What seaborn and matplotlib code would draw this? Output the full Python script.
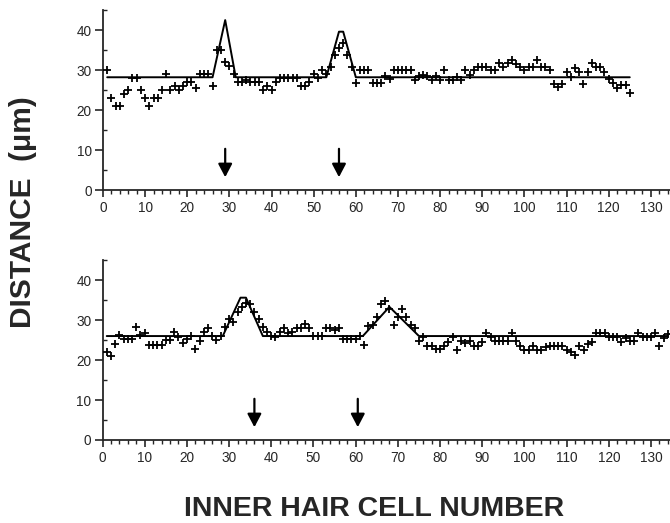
"""Inner hair cell spacing along the cochlea, two preparations."""

import matplotlib.pyplot as plt
import matplotlib.ticker as mticker
import seaborn as sns
import numpy as np

# --- data -------------------------------------------------------------------
top_cells = list(range(1, 126))
top_dist = [
    30, 23, 21, 21, 24, 25, 28, 28, 25, 23,
    21, 23, 23, 25, 29, 25, 26, 25, 26, 27,
    27, 25.5, 29, 29, 29, 26, 35, 35, 32, 31,
    29, 27, 27, 27.5, 27, 27, 27, 25, 26, 25,
    27, 28, 28, 28, 28, 28, 26, 26, 27, 29,
    28, 30, 29, 30.8, 33.7, 35.4, 36.8, 33.7, 30.8, 26.7,
    30, 30, 30, 26.7, 26.7, 26.7, 28.5, 27.7, 30, 30,
    30, 30, 30, 27.5, 28.5, 28.7, 28.5, 27.5, 28.5, 27.5,
    30, 27.5, 27.5, 28.3, 27.5, 30, 28.7, 30, 30.8, 30.8,
    30.8, 30, 30, 31.7, 30.8, 31.7, 32.5, 31.5, 30.8, 30,
    30.8, 30.8, 32.5, 30.8, 30.8, 30, 26.5, 25.7, 26.5, 29.6,
    28.3, 30.4, 29.6, 26.5, 29.6, 31.7, 30.8, 30.8, 29.6, 27.7,
    26.7, 25.4, 26.2, 26.2, 24.3,
]
top_fit_x = [1, 26, 29, 31.5, 53, 56, 57, 60, 125]
top_fit_y = [28.2, 28.2, 42.5, 28.2, 28.2, 39.6, 39.6, 28.2, 28.2]
top_arrows = [29, 56]

bottom_cells = list(range(1, 135))
bottom_dist = [
    22, 21, 24, 26.3, 25.2, 25.2, 25.2, 28.2, 26.3, 26.8,
    23.8, 23.8, 23.8, 23.8, 25, 25, 27, 25.8, 24.2, 25.2,
    26, 22.7, 24.8, 27, 27.9, 26, 25, 26, 28.3, 30.2,
    29.6, 32, 33.2, 34.3, 34, 32, 30.2, 28.3, 27, 26,
    25.8, 27, 27.9, 26.8, 27, 28, 27.9, 29, 27.9, 26,
    26, 26, 28, 27.9, 27.5, 27.9, 25.2, 25.2, 25.2, 25.2,
    26, 23.8, 28.5, 28.75, 30.7, 34, 34.8, 32.7, 28.75, 30.8,
    32.7, 30.7, 28.75, 27.9, 24.8, 25.7, 23.5, 23.5, 22.7, 22.7,
    23.5, 24.6, 25.7, 22.5, 24.8, 24.2, 24.8, 23.5, 23.5, 24.6,
    26.7, 25.8, 24.8, 24.8, 24.8, 24.8, 26.8, 24.8, 23.5, 22.5,
    22.5, 23.5, 22.5, 22.5, 23.3, 23.5, 23.5, 23.5, 23.5, 22.5,
    22, 21.2, 23.5, 22.5, 24, 24.6, 26.7, 26.7, 26.7, 25.7,
    25.7, 25.7, 24.6, 25.4, 24.8, 24.8, 26.7, 25.7, 25.7, 25.7,
    26.8, 23.5, 25.4, 26.5,
]
bottom_fit_x = [1, 28.5, 32.7, 34, 38, 61.7, 68, 75, 134]
bottom_fit_y = [26, 26, 35.6, 35.6, 26, 26, 33.3, 26, 26]
bottom_arrows = [36, 60.5]

sns.set_style("ticks")
plt.rcParams["font.family"] = ["Liberation Sans", "DejaVu Sans"]
plt.rcParams.update({
    "xtick.direction": "out",
    "ytick.direction": "out",
    "xtick.major.size": 5,
    "xtick.minor.size": 3,
    "ytick.major.size": 6,
    "ytick.minor.size": 3,
    "xtick.major.width": 1.2,
    "xtick.minor.width": 1.0,
    "ytick.major.width": 1.2,
    "ytick.minor.width": 1.0,
    "axes.linewidth": 1.3,
    "xtick.major.pad": 3,
    "ytick.major.pad": 2,
})

fig = plt.figure(figsize=(6.7, 5.23), dpi=100)
ax_top = fig.add_axes([0.1537, 0.6367, 0.846, 0.344])
ax_bot = fig.add_axes([0.153, 0.1587, 0.847, 0.344])

panels = [
    (ax_top, top_cells, top_dist, top_fit_x, top_fit_y, top_arrows),
    (ax_bot, bottom_cells, bottom_dist, bottom_fit_x, bottom_fit_y, bottom_arrows),
]

for ax, cells, dist, fx, fy, arrows in panels:
    sns.lineplot(x=fx, y=fy, sort=False, estimator=None, color="black",
                 linewidth=1.4, ax=ax)
    sns.scatterplot(x=cells, y=dist, marker="+", color="black", s=40,
                    linewidth=1.3, ax=ax, zorder=3)
    for a in arrows:
        ax.annotate("", xy=(a, 3.2), xytext=(a, 10.3),
                    arrowprops=dict(arrowstyle="-|>,head_width=0.42,head_length=0.8",
                                    color="black", lw=1.6, shrinkA=0, shrinkB=0))
    ax.set_xlim(0, 134.5)
    ax.set_ylim(0, 45)
    ax.xaxis.set_major_locator(mticker.MultipleLocator(10))
    ax.xaxis.set_minor_locator(mticker.MultipleLocator(2))
    ax.yaxis.set_major_locator(mticker.MultipleLocator(10))
    ax.yaxis.set_minor_locator(mticker.MultipleLocator(5))
    ax.tick_params(axis="y", which="minor", direction="in")
    ax.tick_params(labelsize=9.8)
    ax.set_xlabel("")
    ax.set_ylabel("")
    sns.despine(ax=ax)

fig.text(0.034, 1 - 212 / 523, "DISTANCE  (\u03bcm)", rotation=90,
         ha="center", va="center", fontsize=21.5, fontweight="bold")
fig.text(374 / 670, 1 - 509 / 523, "INNER HAIR CELL NUMBER",
         ha="center", va="center", fontsize=20.5, fontweight="bold")

fig.savefig("out.png", dpi=100)
plt.close(fig)
